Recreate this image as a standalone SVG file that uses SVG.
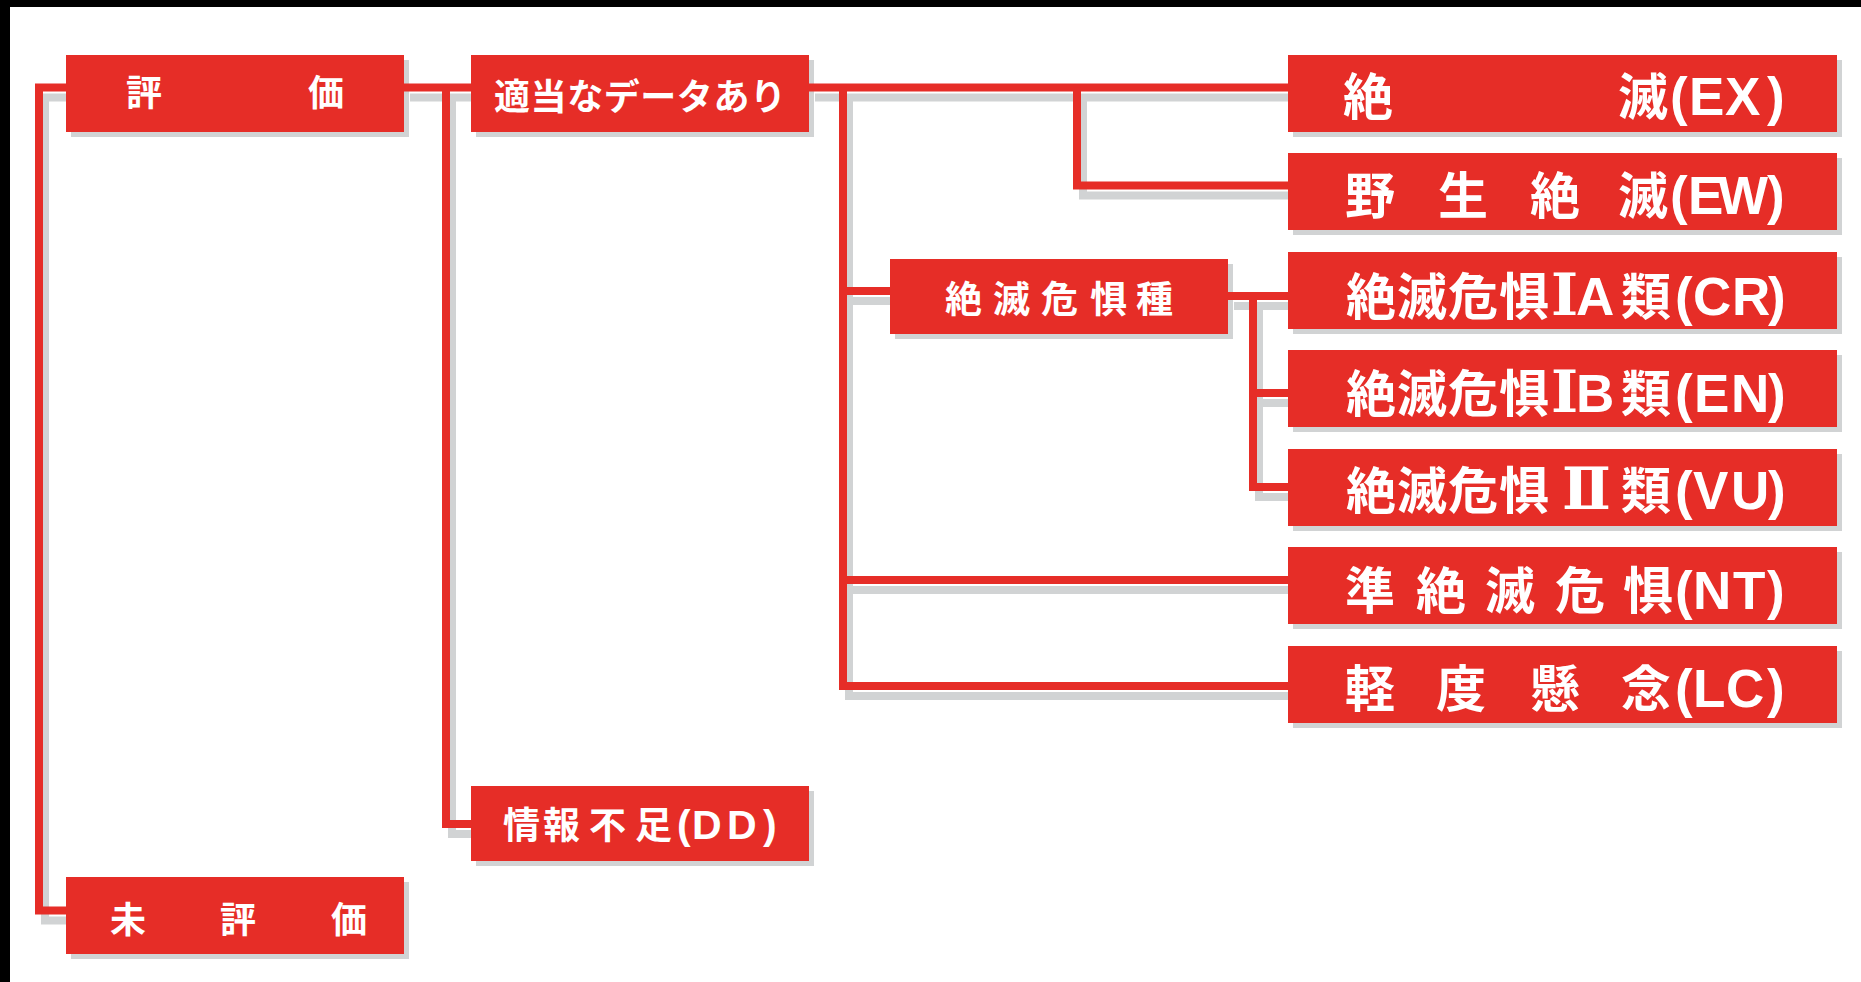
<svg xmlns="http://www.w3.org/2000/svg" xmlns:xlink="http://www.w3.org/1999/xlink" width="1861" height="982" viewBox="0 0 1861 982">
<style>
.box{fill:#e62d27}
.sh{fill:#d1d3d4}
.red{stroke:#e62d27}
.lsh{stroke:#d1d3d4}
#connectors path{fill:none;stroke-width:8;stroke-linejoin:miter;stroke-linecap:butt}
text{fill:#ffffff;font-family:'Liberation Sans','Noto Sans CJK JP',sans-serif;font-weight:bold}
.s36{font-size:36px}
.s37{font-size:37px}
.s50{font-size:50px}
.lat{font-size:53px}
.latdd{font-size:41px}
.rn{font-family:'DejaVu Serif','Liberation Serif','Noto Sans CJK JP',serif;font-weight:bold;font-size:58px}
</style>
<rect x="0" y="0" width="1861" height="982" fill="#000000"/>
<rect x="10" y="7" width="1851" height="975" fill="#ffffff"/>

<g id="box-shadows">
<rect class="sh" x="71" y="60" width="338" height="77"/>
<rect class="sh" x="476" y="60" width="338" height="77"/>
<rect class="sh" x="476" y="791" width="338" height="75"/>
<rect class="sh" x="71" y="882" width="338" height="77"/>
<rect class="sh" x="895" y="264" width="338" height="75"/>
<rect class="sh" x="1293" y="60" width="549" height="77"/>
<rect class="sh" x="1293" y="158" width="549" height="77"/>
<rect class="sh" x="1293" y="257" width="549" height="77"/>
<rect class="sh" x="1293" y="355" width="549" height="77"/>
<rect class="sh" x="1293" y="454" width="549" height="77"/>
<rect class="sh" x="1293" y="552" width="549" height="77"/>
<rect class="sh" x="1293" y="651" width="549" height="77"/>
</g>

<use xlink:href="#connectors" href="#connectors" class="lsh" transform="translate(6,10)"/>
<g class="red">
<g id="connectors">
<path d="M66,87.5 H39 V910.5 H66"/>
<path d="M404,87.5 H471"/>
<path d="M446,87.5 V824 H471"/>
<path d="M809,87.5 H1288"/>
<path d="M1077,87.5 V185.5 H1288"/>
<path d="M843,87.5 V686 H1288"/>
<path d="M843,291 H890"/>
<path d="M843,580 H1288"/>
<path d="M1228,296 H1288"/>
<path d="M1253,296 V487 H1288"/>
<path d="M1253,393 H1288"/>
</g>
</g>

<g id="node-hyouka">
<rect class="box" x="66" y="55" width="338" height="77"/>
<text class="s36" x="126 308" y="106">評価</text>
</g>
<g id="node-tekitou">
<rect class="box" x="471" y="55" width="338" height="77"/>
<text class="s36" x="494" y="110" textLength="292">適当なデータあり</text>
</g>
<g id="node-dd">
<rect class="box" x="471" y="786" width="338" height="75"/>
<text class="s37" y="839"><tspan x="503 543 589 635">情報不足</tspan><tspan class="latdd" x="677 692 727 763">(DD)</tspan></text>
</g>
<g id="node-mihyouka">
<rect class="box" x="66" y="877" width="338" height="77"/>
<text class="s36" x="110 220 331" y="933">未評価</text>
</g>
<g id="node-kigushu">
<rect class="box" x="890" y="259" width="338" height="75"/>
<text class="s37" x="945 993 1041 1090 1136" y="313">絶滅危惧種</text>
</g>
<g id="node-ex">
<rect class="box" x="1288" y="55" width="549" height="77"/>
<text class="s50" y="115"><tspan x="1343 1618">絶滅</tspan><tspan class="lat" x="1670 1689 1725 1767">(EX)</tspan></text>
</g>
<g id="node-ew">
<rect class="box" x="1288" y="153" width="549" height="77"/>
<text class="s50" y="214"><tspan x="1345 1438 1530 1618">野生絶滅</tspan><tspan class="lat" x="1670 1688 1718 1767">(EW)</tspan></text>
</g>
<g id="node-cr">
<rect class="box" x="1288" y="252" width="549" height="77"/>
<text class="s50" y="315"><tspan x="1346 1397 1448 1499">絶滅危惧</tspan><tspan class="rn" x="1551">Ⅰ</tspan><tspan class="lat" x="1576">A</tspan><tspan x="1621">類</tspan><tspan class="lat" x="1675 1693 1732 1768">(CR)</tspan></text>
</g>
<g id="node-en">
<rect class="box" x="1288" y="350" width="549" height="77"/>
<text class="s50" y="412"><tspan x="1346 1397 1448 1499">絶滅危惧</tspan><tspan class="rn" x="1551">Ⅰ</tspan><tspan class="lat" x="1576">B</tspan><tspan x="1621">類</tspan><tspan class="lat" x="1675 1694 1731 1768">(EN)</tspan></text>
</g>
<g id="node-vu">
<rect class="box" x="1288" y="449" width="549" height="77"/>
<text class="s50" y="509"><tspan x="1346 1397 1448 1499">絶滅危惧</tspan><tspan class="rn" x="1562">Ⅱ</tspan><tspan x="1621">類</tspan><tspan class="lat" x="1675 1693 1731 1768">(VU)</tspan></text>
</g>
<g id="node-nt">
<rect class="box" x="1288" y="547" width="549" height="77"/>
<text class="s50" y="609"><tspan x="1345 1416 1485 1555 1623">準絶滅危惧</tspan><tspan class="lat" x="1675 1693 1733 1767">(NT)</tspan></text>
</g>
<g id="node-lc">
<rect class="box" x="1288" y="646" width="549" height="77"/>
<text class="s50" y="707"><tspan x="1345 1436 1530 1621">軽度懸念</tspan><tspan class="lat" x="1675 1693 1726 1767">(LC)</tspan></text>
</g>
</svg>
